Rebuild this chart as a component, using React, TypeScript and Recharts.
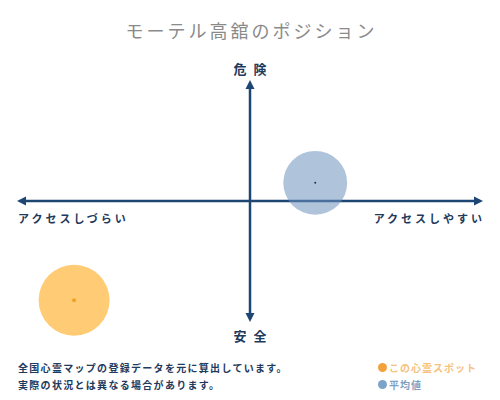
import React from "react";
import {
  ScatterChart,
  Scatter,
  XAxis,
  YAxis,
  ZAxis,
  ReferenceLine,
  Label,
} from "recharts";

// Series shown on the map
const seriesNames = ["この心霊スポット", "平均値"];
const accessValues = [-0.755, 0.28]; // x: アクセスしづらい(-) 〜 アクセスしやすい(+)
const dangerValues = [-0.82, 0.15]; // y: 安全(-) 〜 危険(+)
const sizeValues = [100, 81];

// Axis end labels
const axisLabels = {
  top: "危険",
  bottom: "安全",
  left: "アクセスしづらい",
  right: "アクセスしやすい",
};

const titleText = "モーテル高舘のポジション";
const noteLines = [
  "全国心霊マップの登録データを元に算出しています。",
  "実際の状況とは異なる場合があります。",
];

const FILLS = ["#ffcb74", "rgba(110,146,190,0.55)"];
const DOTS = ["#f0a125", "#1f3550"];
const LEGEND_DOTS = ["#f2a23c", "#7da4c8"];
const LEGEND_TEXT = ["#f6c27c", "#7fa2c3"];
const AXIS_COLOR = "#1d4673";
const LABEL_COLOR = "#1e3a5c";
const FONT = '"Noto Sans CJK JP", "Noto Sans", sans-serif';

const series = seriesNames.map((name, i) => ({
  name,
  data: [{ x: accessValues[i], y: dangerValues[i], z: sizeValues[i] }],
}));

// line with an arrow head on both ends
const ArrowLine = (props: any) => {
  const { x1, y1, x2, y2 } = props;
  const dx = x2 - x1;
  const dy = y2 - y1;
  const len = Math.sqrt(dx * dx + dy * dy) || 1;
  const ux = dx / len;
  const uy = dy / len;
  const head = 9;
  const half = 4.5;
  const tri = (tx: number, ty: number, dirX: number, dirY: number) => {
    const bx = tx - dirX * head;
    const by = ty - dirY * head;
    return `${tx},${ty} ${bx - dirY * half},${by + dirX * half} ${bx + dirY * half},${by - dirX * half}`;
  };
  return (
    <g>
      <line
        x1={x1 + ux * 4}
        y1={y1 + uy * 4}
        x2={x2 - ux * 4}
        y2={y2 - uy * 4}
        stroke={AXIS_COLOR}
        strokeWidth={2.5}
      />
      <polygon points={tri(x2, y2, ux, uy)} fill={AXIS_COLOR} />
      <polygon points={tri(x1, y1, -ux, -uy)} fill={AXIS_COLOR} />
    </g>
  );
};

const endLabel = (text: string, where: string) => (props: any) => {
  const { x, y, width, height } = props.viewBox;
  const vertical = where === "top" || where === "bottom";
  const spacing = vertical ? 7 : 3;
  let tx = x + width / 2 + spacing / 2;
  let ty = y - 12;
  let anchor = "middle";
  if (where === "bottom") ty = y + height + 13;
  if (where === "left") {
    tx = x + 1;
    ty = y + 17;
    anchor = "start";
  }
  if (where === "right") {
    tx = x + width + spacing - 1;
    ty = y + 17;
    anchor = "end";
  }
  return (
    <text
      x={tx}
      y={ty}
      textAnchor={anchor}
      dominantBaseline="central"
      fill={LABEL_COLOR}
      fontSize={vertical ? 13 : 11}
      fontWeight="bold"
      letterSpacing={spacing}
      fontFamily={FONT}
    >
      {text}
    </text>
  );
};

const Bubble = (props: any) => {
  const { cx, cy, width, index } = props;
  const i = index ?? 0;
  return (
    <g>
      <circle cx={cx} cy={cy} r={width / 2} fill={props.fill} />
      <circle cx={cx} cy={cy} r={i === 0 ? 2 : 1} fill={props.dotColor} />
    </g>
  );
};

const App: React.FC = () => (
  <div
    style={{
      position: "absolute",
      left: 0,
      top: 0,
      width: 500,
      height: 400,
      background: "#fff",
      fontFamily: FONT,
    }}
  >
    <div
      style={{
        position: "absolute",
        top: 18,
        left: 0,
        width: 500,
        textAlign: "center",
        fontSize: 18,
        lineHeight: "24px",
        letterSpacing: 3,
        paddingLeft: 3,
        boxSizing: "border-box",
        color: "#8a8a8a",
      }}
    >
      {titleText}
    </div>
    <ScatterChart
      width={500}
      height={400}
      margin={{ top: 80, right: 17, bottom: 78, left: 17 }}
    >
      <XAxis type="number" dataKey="x" domain={[-1, 1]} hide />
      <YAxis type="number" dataKey="y" domain={[-1, 1]} hide />
      <ZAxis type="number" dataKey="z" domain={[0, 100]} range={[0, 3960]} />
      <ReferenceLine x={0} shape={ArrowLine}>
        <Label content={endLabel(axisLabels.top, "top")} />
        <Label content={endLabel(axisLabels.bottom, "bottom")} />
      </ReferenceLine>
      <ReferenceLine y={0} shape={ArrowLine}>
        <Label content={endLabel(axisLabels.left, "left")} />
        <Label content={endLabel(axisLabels.right, "right")} />
      </ReferenceLine>
      {series.map((s, i) => (
        <Scatter
          key={s.name}
          name={s.name}
          data={s.data}
          fill={FILLS[i]}
          isAnimationActive={false}
          shape={(p: any) => (
            <Bubble {...p} index={i} fill={FILLS[i]} dotColor={DOTS[i]} />
          )}
        />
      ))}
    </ScatterChart>
    <div
      style={{
        position: "absolute",
        top: 359,
        left: 18,
        fontSize: 10,
        lineHeight: "17px",
        letterSpacing: 1.3,
        fontWeight: "bold",
        color: LABEL_COLOR,
      }}
    >
      {noteLines.map((l) => (
        <div key={l}>{l}</div>
      ))}
    </div>
    <div
      style={{
        position: "absolute",
        top: 359,
        left: 378,
        fontSize: 10,
        lineHeight: "17px",
        letterSpacing: 1,
        fontWeight: "bold",
      }}
    >
      {seriesNames.map((n, i) => (
        <div key={n} style={{ display: "flex", alignItems: "center" }}>
          <span
            style={{
              display: "inline-block",
              width: 9,
              height: 9,
              borderRadius: "50%",
              background: LEGEND_DOTS[i],
              marginRight: 2,
            }}
          />
          <span style={{ color: LEGEND_TEXT[i] }}>{n}</span>
        </div>
      ))}
    </div>
  </div>
);

export default App;
